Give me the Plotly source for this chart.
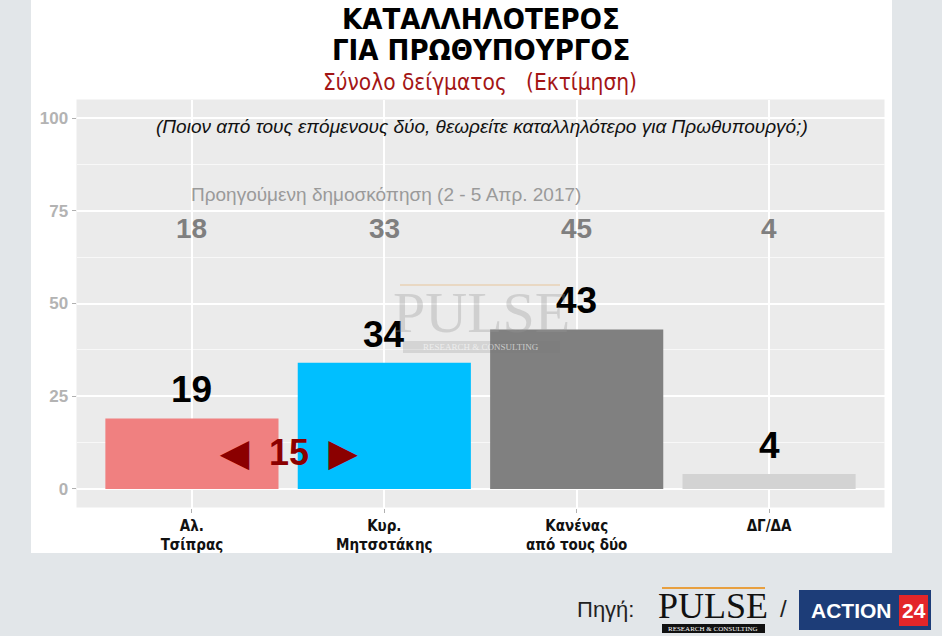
import plotly.graph_objects as go

# ---------------- data ----------------
categories = ["Αλ.<br>Τσίπρας", "Κυρ.<br>Μητσοτάκης", "Κανένας<br>από τους δύο", "ΔΓ/ΔΑ"]
current_values = [19, 34, 43, 4]
previous_values = [18, 33, 45, 4]
bar_colors = ["#f08080", "#00bfff", "#808080", "#d3d3d3"]
y_ticks = [0, 25, 50, 75, 100]

W, H = 942, 636
def px(x):
    return x / W
def py(y):
    return 1 - y / H

xpos = list(range(1, len(categories) + 1))
NARROW = "Liberation Sans Narrow, Arial Narrow, DejaVu Sans Condensed, Liberation Sans, sans-serif"
SANS = "Liberation Sans, Arial, sans-serif"

PLOT_X0, PLOT_X1, PLOT_Y0, PLOT_Y1 = 76.5, 884.5, 99.5, 507.5

fig = go.Figure()
fig.add_trace(go.Bar(
    x=xpos, y=current_values, width=0.9,
    marker=dict(color=bar_colors, line=dict(width=0)),
    hoverinfo="skip", showlegend=False,
))

def A(**kw):
    kw.setdefault("showarrow", False)
    kw.setdefault("xanchor", "center")
    kw.setdefault("yanchor", "middle")
    return kw

ann = []
# current values above bars
for x, v in zip(xpos, current_values):
    ann.append(A(x=x, y=v, xref="x", yref="y", text=f"<b>{v}</b>",
                 yanchor="bottom", yshift=6, font=dict(family=SANS, size=37, color="#000000")))
# previous values
for x, v in zip(xpos, previous_values):
    ann.append(A(x=x, y=70.3, xref="x", yref="y", text=f"<b>{v}</b>",
                 font=dict(family=SANS, size=28, color="#7f7f7f")))
ann.append(A(x=2.01, y=79.3, xref="x", yref="y", text="Προηγούμενη δημοσκόπηση (2 - 5 Απρ. 2017)",
             font=dict(family=SANS, size=19, color="#9a9a9a")))
ann.append(A(x=2.51, y=97.6, xref="x", yref="y",
             text="<i>(Ποιον από τους επόμενους δύο, θεωρείτε καταλληλότερο για Πρωθυπουργό;)</i>",
             font=dict(family=SANS, size=19, color="#111111")))
# difference marker
diff = current_values[1] - current_values[0]
ann.append(A(x=1.5, y=9.7, xref="x", yref="y", text=f"<b>◀  {diff}  ▶</b>",
             font=dict(family=SANS, size=36, color="#8b0000")))

# watermark
ann.append(A(x=px(481), y=py(312), xref="paper", yref="paper", text="PULSE",
             font=dict(family="Liberation Serif, serif", size=58, color="rgba(150,150,150,0.32)")))
ann.append(A(x=px(481), y=py(347), xref="paper", yref="paper", text="RESEARCH &amp; CONSULTING",
             font=dict(family="Liberation Serif, serif", size=9, color="rgba(255,255,255,0.6)")))

# titles
ann.append(A(x=px(481), y=py(19), xref="paper", yref="paper", text="<b>ΚΑΤΑΛΛΗΛΟΤΕΡΟΣ</b>",
             font=dict(family=NARROW, size=29, color="#000000")))
ann.append(A(x=px(481), y=py(50), xref="paper", yref="paper", text="<b>ΓΙΑ ΠΡΩΘΥΠΟΥΡΓΟΣ</b>",
             font=dict(family=NARROW, size=29, color="#000000")))
ann.append(A(x=px(480), y=py(82), xref="paper", yref="paper", text="Σύνολο δείγματος   (Εκτίμηση)",
             font=dict(family=NARROW, size=22.5, color="#a31515")))

# source line
ann.append(A(x=px(605), y=py(609), xref="paper", yref="paper", text="Πηγή:",
             font=dict(family=SANS, size=22, color="#222222")))
ann.append(A(x=px(713), y=py(606), xref="paper", yref="paper", text="PULSE",
             font=dict(family="Liberation Serif, serif", size=36, color="#111111")))
ann.append(A(x=px(713), y=py(628.5), xref="paper", yref="paper", text="RESEARCH &amp; CONSULTING",
             font=dict(family="Liberation Serif, serif", size=7, color="#ffffff")))
ann.append(A(x=px(783), y=py(608), xref="paper", yref="paper", text="/",
             font=dict(family=SANS, size=24, color="#222222")))
ann.append(A(x=px(851), y=py(610), xref="paper", yref="paper", text="<b>ACTION</b>",
             font=dict(family=SANS, size=21, color="#ffffff")))
ann.append(A(x=px(913.5), y=py(610), xref="paper", yref="paper", text="<b>24</b>",
             font=dict(family=SANS, size=21, color="#ffffff")))

shapes = [
    # white panel
    dict(type="rect", xref="paper", yref="paper", x0=px(31), x1=px(892), y0=py(553), y1=py(0),
         fillcolor="#ffffff", line=dict(width=0), layer="below"),
    # plot panel background
    dict(type="rect", xref="paper", yref="paper", x0=px(PLOT_X0), x1=px(PLOT_X1),
         y0=py(PLOT_Y1), y1=py(PLOT_Y0),
         fillcolor="#ebebeb", line=dict(width=0), layer="below"),
    # watermark lines
    dict(type="line", xref="paper", yref="paper", x0=px(400), x1=px(560), y0=py(285), y1=py(285),
         line=dict(color="rgba(230,180,120,0.35)", width=2)),
    dict(type="rect", xref="paper", yref="paper", x0=px(403), x1=px(560), y0=py(353), y1=py(341),
         fillcolor="rgba(120,120,120,0.2)", line=dict(width=0)),
    # pulse logo bits
    dict(type="line", xref="paper", yref="paper", x0=px(662), x1=px(765), y0=py(588), y1=py(588),
         line=dict(color="#e8a040", width=2)),
    dict(type="rect", xref="paper", yref="paper", x0=px(662), x1=px(765), y0=py(633), y1=py(624),
         fillcolor="#111111", line=dict(width=0)),
    # action24 logo
    dict(type="rect", xref="paper", yref="paper", x0=px(799), x1=px(931), y0=py(630), y1=py(590),
         fillcolor="#1d3d78", line=dict(width=0)),
    dict(type="rect", xref="paper", yref="paper", x0=px(899), x1=px(928), y0=py(626), y1=py(595),
         fillcolor="#e3262a", line=dict(width=0)),
]

fig.update_layout(
    width=W, height=H,
    margin=dict(l=0, r=0, t=0, b=0),
    paper_bgcolor="#e2e6e9",
    plot_bgcolor="rgba(0,0,0,0)",
    showlegend=False,
    bargap=0.1,
    annotations=ann,
    shapes=shapes,
    xaxis=dict(
        domain=[px(PLOT_X0), px(PLOT_X1)],
        range=[0.4, 4.6],
        tickvals=xpos, ticktext=[f"<b>{c}</b>" for c in categories],
        tickfont=dict(family=NARROW, size=15, color="#111111"),
        showgrid=True, gridcolor="#ffffff", gridwidth=1.5,
        ticks="outside", ticklen=4, tickcolor="#b0b0b0", tickwidth=1,
        zeroline=False, showline=False, fixedrange=True,
    ),
    yaxis=dict(
        domain=[py(PLOT_Y1), py(PLOT_Y0)],
        range=[-5, 105],
        tickvals=y_ticks, ticktext=[f"<b>{t}</b>" for t in y_ticks],
        tickfont=dict(family=SANS, size=17, color="#b3b3b3"),
        showgrid=True, gridcolor="#ffffff", gridwidth=1.5,
        minor=dict(dtick=12.5, tick0=0, showgrid=True, gridcolor="#f8f8f8", gridwidth=0.8),
        ticks="outside", ticklen=4, tickcolor="#b0b0b0", tickwidth=1,
        zeroline=False, showline=False, fixedrange=True,
    ),
)

fig.write_html("out.html", config={"displayModeBar": False},
               post_script="document.body.style.margin='0';document.body.style.background='#e2e6e9';")
